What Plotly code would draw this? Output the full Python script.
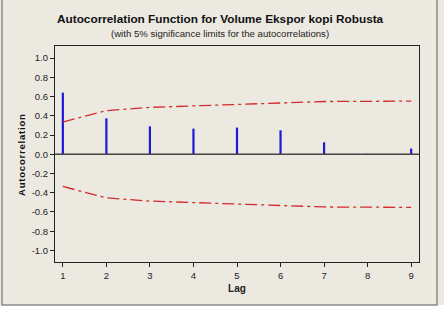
import plotly.graph_objects as go

lags = [1, 2, 3, 4, 5, 6, 7, 8, 9]
acf = [0.64, 0.373, 0.29, 0.266, 0.277, 0.249, 0.124, 0.005, 0.059]
upper = [0.335, 0.453, 0.487, 0.502, 0.517, 0.535, 0.548, 0.550, 0.552]
lower = [-u for u in upper]
yticks = [1.0, 0.8, 0.6, 0.4, 0.2, 0.0, -0.2, -0.4, -0.6, -0.8, -1.0]

W, H = 444, 336
L, R, T, B = 55, 419, 46, 262

fig = go.Figure()
for lg, v in zip(lags, acf):
    fig.add_trace(go.Scatter(x=[lg, lg], y=[0, v], mode="lines",
                             line=dict(color="#1a1ad6", width=2.2),
                             showlegend=False, hoverinfo="skip"))
for band in (upper, lower):
    fig.add_trace(go.Scatter(x=lags, y=band, mode="lines",
                             line=dict(color="#d42a2a", width=1.3, dash="12px,4px,3px,4px"),
                             showlegend=False, hoverinfo="skip"))

pw, ph = R - L, B - T
def px(x):
    return (x - L) / pw
def py(y):
    return (B - y) / ph

fig.add_shape(type="rect", xref="paper", yref="paper", layer="below",
              x0=px(0), x1=px(W), y0=py(305), y1=py(0),
              fillcolor="#ece9e1", line=dict(width=0))
fig.add_shape(type="rect", xref="paper", yref="paper", layer="below",
              x0=px(2), x1=px(437), y0=py(305), y1=py(-2),
              fillcolor="rgba(0,0,0,0)", line=dict(color="#8a8a8a", width=1.5))
fig.add_shape(type="line", xref="paper", yref="y", x0=0, x1=1, y0=0, y1=0,
              line=dict(color="#444444", width=1.3))

def ann(text, x, y, size, angle=0, color="#111111"):
    fig.add_annotation(text=text, xref="paper", yref="paper", x=px(x), y=py(y),
                       xanchor="center", yanchor="middle", showarrow=False,
                       textangle=angle,
                       font=dict(family="Liberation Sans, Arial", size=size, color=color))

ann("<b>Autocorrelation Function for Volume Ekspor kopi Robusta</b>", 220, 19, 11.8)
ann("(with 5% significance limits for the autocorrelations)", 220, 33, 9.6, color="#222222")
hs = "\u200a"
ann("<b>" + hs.join("Autocorrelation") + "</b>", 21, 155, 9.5, angle=-90)

fig.update_layout(
    width=W, height=H,
    margin=dict(l=L, r=W - R, t=T, b=H - B),
    paper_bgcolor="white", plot_bgcolor="white",
    font=dict(family="Liberation Sans, Arial", size=9.5, color="#222222"),
    xaxis=dict(range=[0.82, 9.18], tickvals=lags, ticks="outside", ticklen=4,
               tickcolor="#222222", showgrid=False, zeroline=False,
               showline=True, linecolor="#222222", linewidth=1.2, mirror=True,
               title=dict(text="<b>Lag</b>", font=dict(size=10), standoff=5)),
    yaxis=dict(range=[-1.12, 1.125], tickvals=yticks,
               ticktext=[f"{v:.1f}" for v in yticks], ticks="outside", ticklen=4,
               tickcolor="#222222", showgrid=False, zeroline=False,
               showline=True, linecolor="#222222", linewidth=1.2, mirror=True),
)

fig.write_html("out.html")
